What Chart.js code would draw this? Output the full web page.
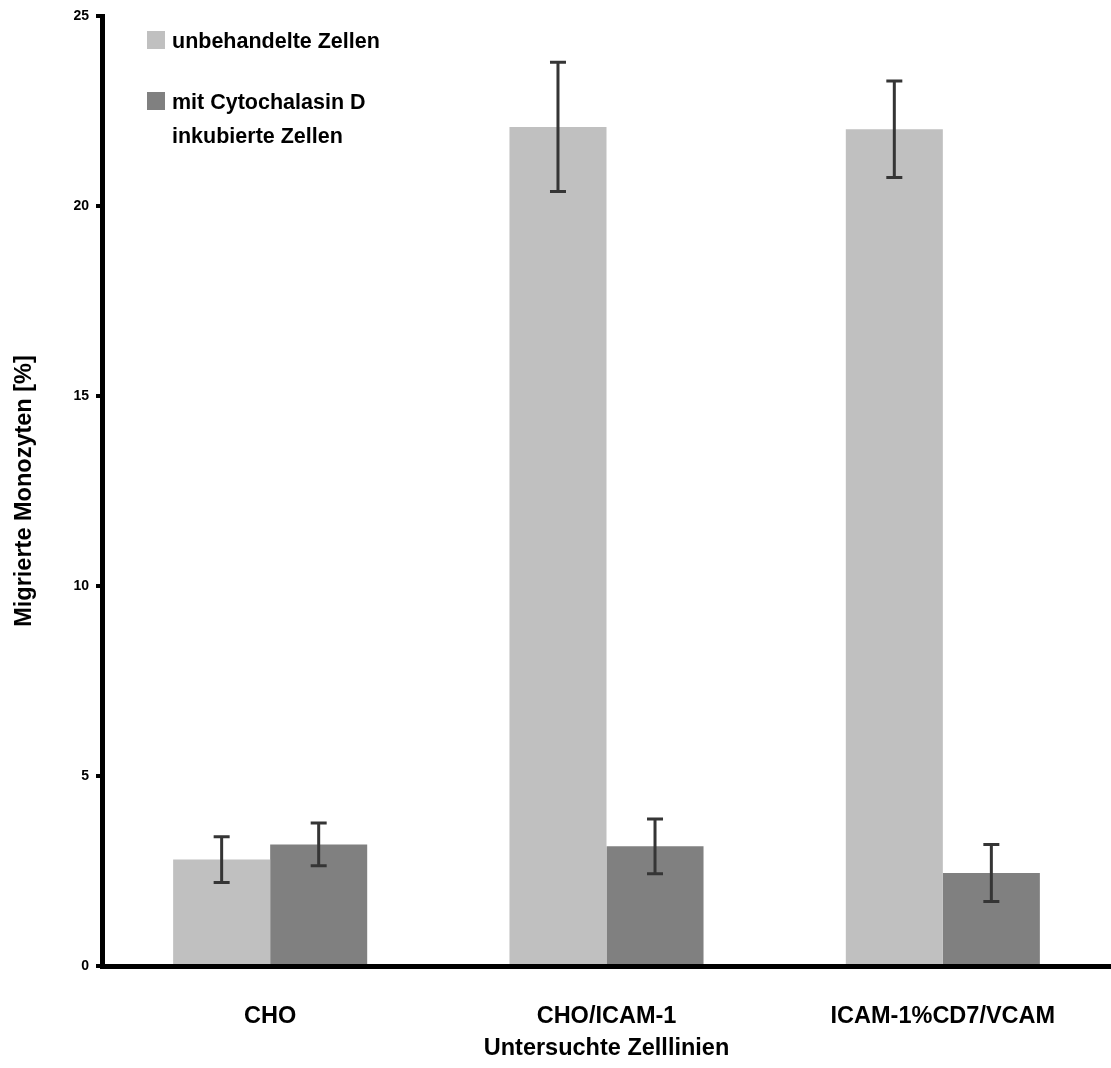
<!DOCTYPE html>
<html>
<head>
<meta charset="utf-8">
<script src="https://cdn.jsdelivr.net/npm/chart.js@4.4.1/dist/chart.umd.min.js"></script>
<style>
  html, body { margin: 0; padding: 0; background: #ffffff; }
  canvas { display: block; }
</style>
</head>
<body>
<canvas id="chart" width="1111" height="1068"></canvas>
<script>
// Cell lines and migration results (mean and standard deviation, in %)
const categories = ['CHO', 'CHO/ICAM-1', 'ICAM-1%CD7/VCAM'];
const untreatedLabel = ['unbehandelte Zellen'];
const treatedLabel = ['mit Cytochalasin D', 'inkubierte Zellen'];
const untreatedMeans = [2.8, 22.08, 22.02];
const untreatedErrors = [0.6, 1.7, 1.27];
const treatedMeans = [3.2, 3.15, 2.45];
const treatedErrors = [0.56, 0.72, 0.75];
const yTicks = [0, 5, 10, 15, 20, 25];
const xTitle = 'Untersuchte Zelllinien';
const yTitle = 'Migrierte Monozyten [%]';

const FONT = '"Liberation Sans", Arial, Helvetica, sans-serif';
Chart.defaults.font.family = FONT;
Chart.defaults.color = '#000000';

// Whiskers for mean ± SD, drawn through the value scale
const errorBars = {
  id: 'errorBars',
  afterDatasetsDraw(chart) {
    const ctx = chart.ctx;
    const yScale = chart.scales.y;
    chart.data.datasets.forEach((ds, i) => {
      const meta = chart.getDatasetMeta(i);
      meta.data.forEach((bar, j) => {
        const v = ds.data[j];
        const e = ds.errors[j];
        const x = bar.x;
        const yTop = yScale.getPixelForValue(v + e);
        const yBot = yScale.getPixelForValue(v - e);
        ctx.save();
        ctx.strokeStyle = '#353535';
        ctx.lineWidth = 3;
        ctx.beginPath();
        ctx.moveTo(x, yTop); ctx.lineTo(x, yBot);
        ctx.moveTo(x - 8, yTop); ctx.lineTo(x + 8, yTop);
        ctx.moveTo(x - 8, yBot); ctx.lineTo(x + 8, yBot);
        ctx.stroke();
        ctx.restore();
      });
    });
  }
};

// Legend in the upper left of the plot, with a wrapped second entry
const boxLegend = {
  id: 'boxLegend',
  afterDraw(chart) {
    const ctx = chart.ctx;
    const boxX = 147, boxSize = 18, textX = 172;
    const entries = [
      { top: 31, baselines: [48] },
      { top: 92, baselines: [109, 143] }
    ];
    ctx.save();
    ctx.font = 'bold 21.5px ' + FONT;
    ctx.textBaseline = 'alphabetic';
    ctx.textAlign = 'left';
    chart.data.datasets.forEach((ds, i) => {
      const ent = entries[i];
      ctx.fillStyle = ds.backgroundColor;
      ctx.fillRect(boxX, ent.top, boxSize, boxSize);
      ctx.fillStyle = '#000000';
      ds.legendLines.forEach((line, k) => {
        ctx.fillText(line, textX, ent.baselines[k]);
      });
    });
    ctx.restore();
  }
};

new Chart(document.getElementById('chart'), {
  type: 'bar',
  data: {
    labels: categories,
    datasets: [
      {
        label: untreatedLabel.join(' '),
        legendLines: untreatedLabel,
        data: untreatedMeans,
        errors: untreatedErrors,
        backgroundColor: '#c0c0c0',
        borderWidth: 0,
        categoryPercentage: 0.577,
        barPercentage: 1.0
      },
      {
        label: treatedLabel.join(' '),
        legendLines: treatedLabel,
        data: treatedMeans,
        errors: treatedErrors,
        backgroundColor: '#808080',
        borderWidth: 0,
        categoryPercentage: 0.577,
        barPercentage: 1.0
      }
    ]
  },
  options: {
    responsive: false,
    animation: false,
    events: [],
    layout: { padding: { top: 16, right: 0, bottom: 0, left: 0 } },
    plugins: {
      legend: { display: false },
      tooltip: { enabled: false }
    },
    scales: {
      x: {
        grid: { display: false, drawTicks: false },
        border: { display: true, width: 5, color: '#000000' },
        ticks: {
          font: { size: 23.5, weight: 'bold' },
          color: '#000000',
          padding: 36,
          maxRotation: 0
        },
        title: {
          display: true,
          text: xTitle,
          font: { size: 23.5, weight: 'bold' },
          color: '#000000',
          padding: { top: 0, bottom: 5 }
        },
        afterFit(scale) { scale.height = 102; }
      },
      y: {
        min: 0,
        max: 25,
        afterBuildTicks(scale) { scale.ticks = yTicks.map(v => ({ value: v })); },
        grid: {
          display: true,
          drawOnChartArea: false,
          drawTicks: true,
          tickLength: 6,
          lineWidth: 4,
          color: '#000000'
        },
        border: { display: true, width: 5, color: '#000000' },
        ticks: {
          font: { size: 14, weight: 'bold' },
          color: '#000000',
          padding: 7
        },
        title: {
          display: true,
          text: yTitle,
          font: { size: 23.5, weight: 'bold' },
          color: '#000000',
          padding: { top: 10, bottom: 0 }
        },
        afterFit(scale) { scale.width = 102; }
      }
    }
  },
  plugins: [errorBars, boxLegend]
});
</script>
</body>
</html>
